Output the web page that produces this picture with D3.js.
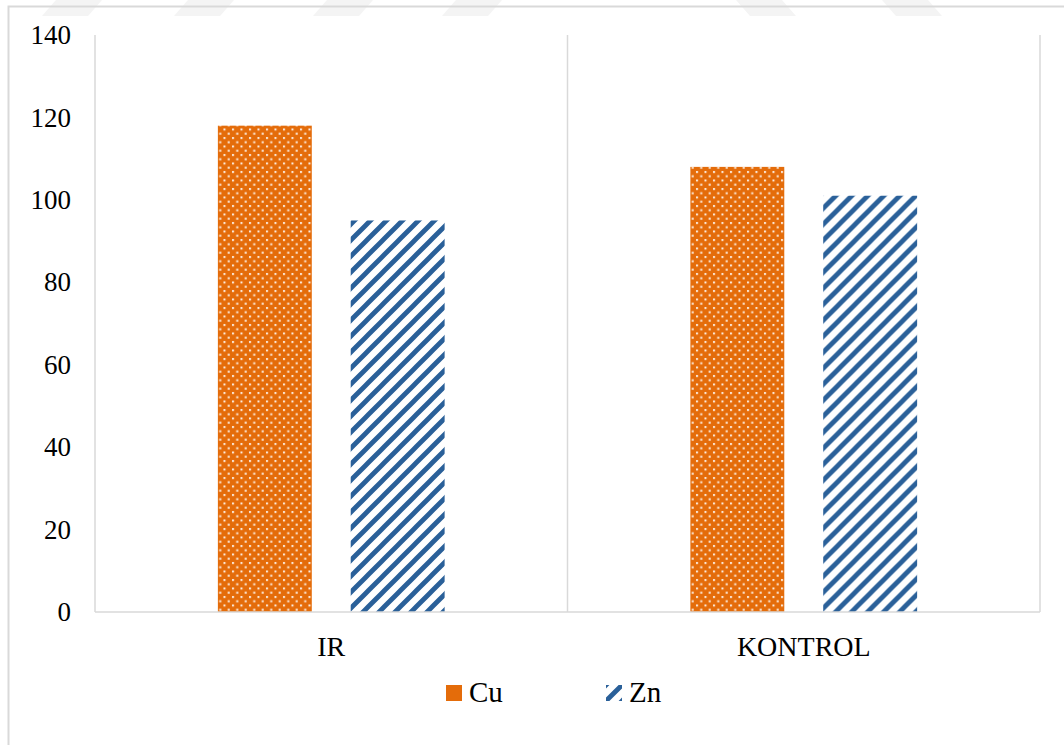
<!DOCTYPE html>
<html>
<head>
<meta charset="utf-8">
<script src="https://cdn.jsdelivr.net/npm/d3@7"></script>
<style>
  html, body { margin: 0; padding: 0; background: #fff; }
  svg { display: block; }
  text { font-family: "Liberation Serif", "Times New Roman", serif; fill: #000; }
</style>
</head>
<body>
<svg id="chart" width="1064" height="745"></svg>
<script>
// Categories, series and values
const categories = ["IR", "KONTROL"];
const seriesNames = ["Cu", "Zn"];
const cuValues = [118, 108];
const znValues = [95, 101];
const yTicks = [0, 20, 40, 60, 80, 100, 120, 140];

const W = 1064, H = 745;
const plot = { left: 95, right: 1040, top: 35, bottom: 612 };
const colors = { Cu: "#E46C0A", Zn: "#2A6099" };

const svg = d3.select("#chart");
const defs = svg.append("defs");

// Dotted fill for Cu
const dot = defs.append("pattern")
  .attr("id", "pat-cu").attr("patternUnits", "userSpaceOnUse")
  .attr("width", 8.5).attr("height", 8.5);
dot.append("rect").attr("width", 8.5).attr("height", 8.5).attr("fill", colors.Cu);
dot.append("rect").attr("x", 1).attr("y", 1).attr("width", 2).attr("height", 2).attr("fill", "#fff").attr("opacity", 0.9);
dot.append("rect").attr("x", 5.25).attr("y", 5.25).attr("width", 2).attr("height", 2).attr("fill", "#fff").attr("opacity", 0.9);

// Wide upward diagonal fill for Zn
const P = 16;
const hatch = defs.append("pattern")
  .attr("id", "pat-zn").attr("patternUnits", "userSpaceOnUse")
  .attr("width", P).attr("height", P);
hatch.append("rect").attr("width", P).attr("height", P).attr("fill", "#fff");
hatch.append("path")
  .attr("d", `M-4,${P + 4} L${P + 4},-4 M-4,4 L4,-4 M${P - 4},${P + 4} L${P + 4},${P - 4}`)
  .attr("stroke", colors.Zn).attr("stroke-width", 4.8);

// Faint background marks along the top edge
const topMarks = [[56, 1], [188, 1], [327, 1], [456, 1], [736, -1], [882, -1]];
svg.append("g").selectAll("path").data(topMarks).join("path")
  .attr("d", d => {
    const [x0, dir] = d, w = 46, s = 14, h = 16;
    return dir > 0
      ? `M${x0},0 L${x0 + w},0 L${x0 + w - s},${h} L${x0 - s},${h} Z`
      : `M${x0},0 L${x0 + w},0 L${x0 + w + s},${h} L${x0 + s},${h} Z`;
  })
  .attr("fill", "#F4F4F4");

// Chart frame
svg.append("path")
  .attr("d", `M8.5,${H} L8.5,6.5 L${W},6.5`)
  .attr("fill", "none").attr("stroke", "#D9D9D9").attr("stroke-width", 2);

// Scales
const x = d3.scaleBand().domain(categories).range([plot.left, plot.right]).padding(0);
const xSub = d3.scaleBand().domain(seriesNames).range([0, x.bandwidth()])
  .paddingInner(0.293).paddingOuter(0.925);
const y = d3.scaleLinear().domain([0, 140]).range([plot.bottom, plot.top]);

// Vertical category separators
const sepX = categories.map(c => x(c)).concat([x.range()[1]]);
svg.append("g").selectAll("line").data(sepX).join("line")
  .attr("x1", d => d).attr("x2", d => d)
  .attr("y1", y(140)).attr("y2", y(0))
  .attr("stroke", "#D9D9D9").attr("stroke-width", 1.5);

// Bars
const rows = categories.map((c, i) => ({ cat: c, Cu: cuValues[i], Zn: znValues[i] }));
const groups = svg.append("g").selectAll("g").data(rows).join("g")
  .attr("transform", d => `translate(${x(d.cat)},0)`);
groups.selectAll("rect")
  .data(d => seriesNames.map(s => ({ s, v: d[s] })))
  .join("rect")
  .attr("x", d => xSub(d.s))
  .attr("width", xSub.bandwidth())
  .attr("y", d => y(d.v))
  .attr("height", d => y(0) - y(d.v))
  .attr("fill", d => `url(#pat-${d.s.toLowerCase()})`);

// Category axis line
svg.append("line")
  .attr("x1", plot.left).attr("x2", plot.right)
  .attr("y1", y(0)).attr("y2", y(0))
  .attr("stroke", "#D9D9D9").attr("stroke-width", 1.5);

// Y axis labels
const yAxis = d3.axisLeft(y).tickValues(yTicks).tickSize(0).tickPadding(24);
const yg = svg.append("g").attr("transform", `translate(${plot.left},0)`).call(yAxis);
yg.attr("font-family", null);
yg.select(".domain").remove();
yg.selectAll("text").style("font-size", "27px").style("font-family", '"Liberation Serif", serif').attr("fill", "#000");

// X axis labels
const xAxis = d3.axisBottom(x).tickSize(0).tickPadding(24);
const xg = svg.append("g").attr("transform", `translate(0,${y(0)})`).call(xAxis);
xg.attr("font-family", null);
xg.select(".domain").remove();
xg.selectAll("text").style("font-size", "28px").style("font-family", '"Liberation Serif", serif').attr("fill", "#000");

// Legend
const legendItems = [
  { name: "Cu", x: 446 },
  { name: "Zn", x: 606 }
];
const lg = svg.append("g").selectAll("g").data(legendItems).join("g")
  .attr("transform", d => `translate(${d.x},685)`);
lg.append("rect").attr("width", 16).attr("height", 16)
  .attr("fill", d => d.name === "Cu" ? colors.Cu : `url(#pat-zn)`);
lg.append("text").attr("x", 23).attr("y", 17)
  .style("font-size", "29px").text(d => d.name);
</script>
</body>
</html>
